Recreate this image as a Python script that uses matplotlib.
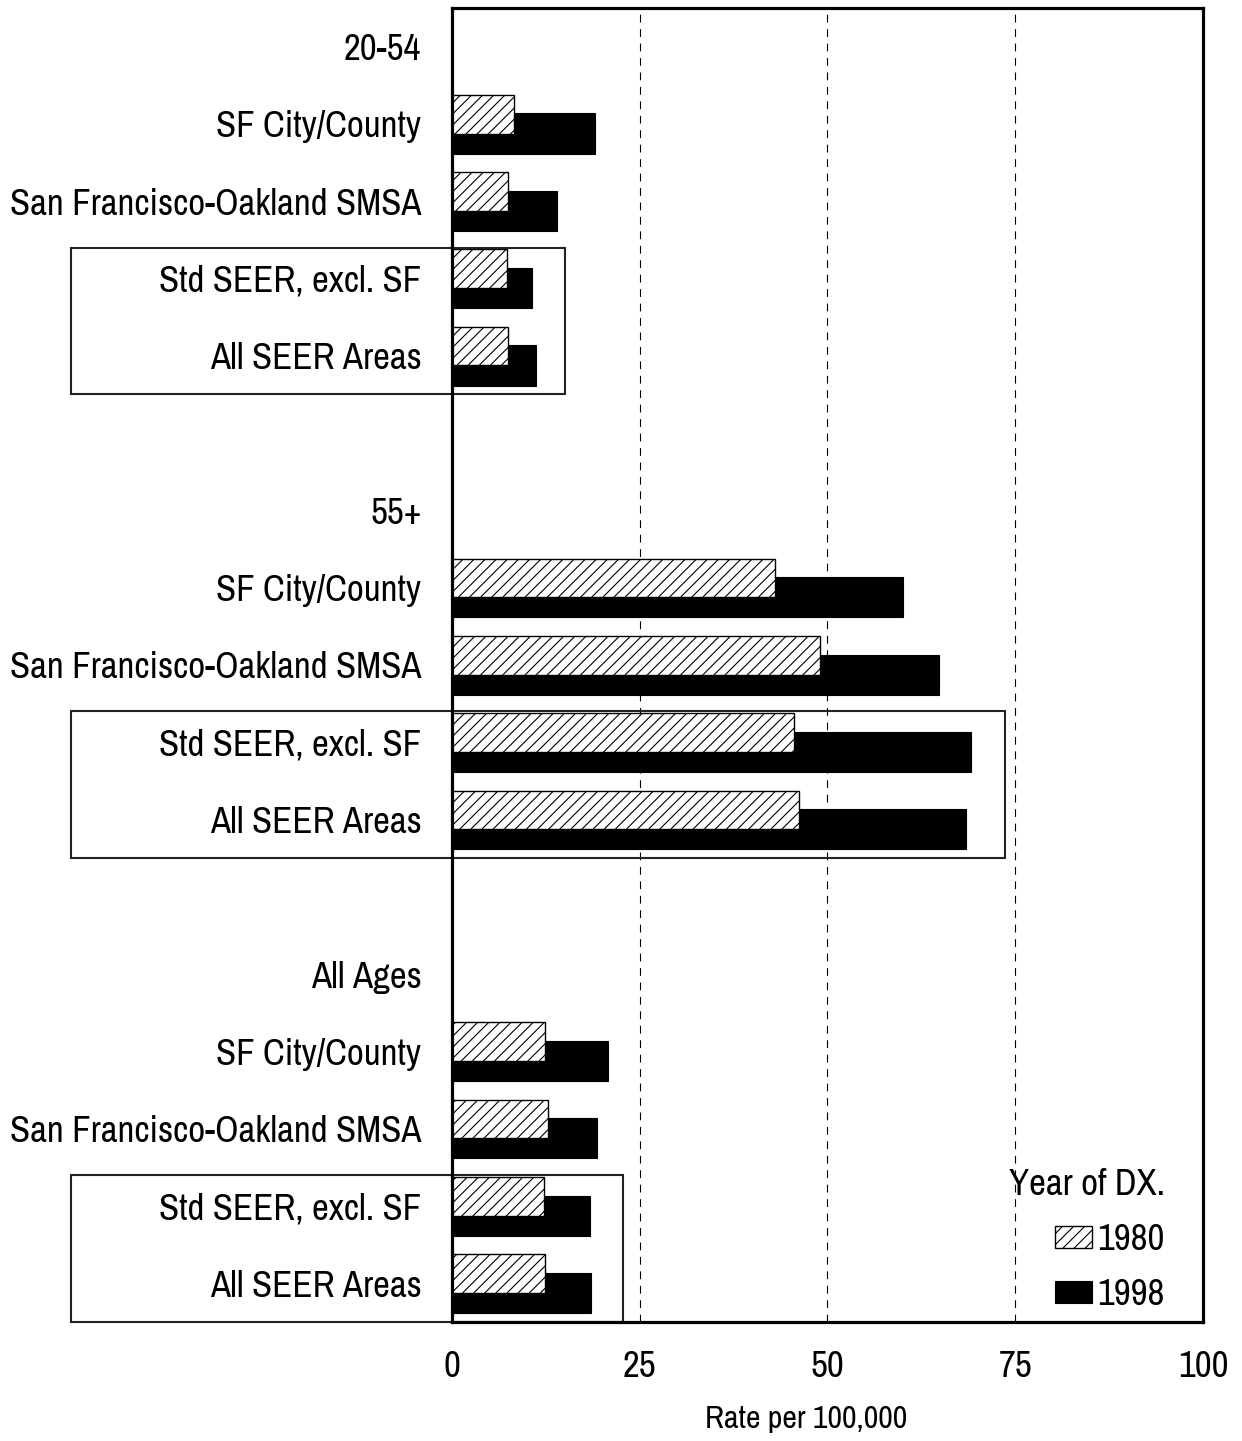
import matplotlib.pyplot as plt
from matplotlib.patches import Rectangle
import numpy as np

plt.rcParams['font.family'] = ['Archivo Narrow', 'Liberation Sans', 'DejaVu Sans']
plt.rcParams['hatch.linewidth'] = 0.8

# rows from top to bottom; header rows carry no bars
categories = ['20-54', 'SF City/County', 'San Francisco-Oakland SMSA', 'Std SEER, excl. SF', 'All SEER Areas',
              '',
              '55+', 'SF City/County', 'San Francisco-Oakland SMSA', 'Std SEER, excl. SF', 'All SEER Areas',
              '',
              'All Ages', 'SF City/County', 'San Francisco-Oakland SMSA', 'Std SEER, excl. SF', 'All SEER Areas']
rate_1980 = [0, 8.3, 7.5, 7.3, 7.5,
             0,
             0, 43.0, 49.0, 45.5, 46.2,
             0,
             0, 12.4, 12.8, 12.3, 12.4]
rate_1998 = [0, 19.1, 14.0, 10.7, 11.2,
             0,
             0, 60.0, 64.8, 69.1, 68.4,
             0,
             0, 20.8, 19.3, 18.4, 18.5]
# boxed groups: (first row, last row, right edge in rate units)
boxes = [(3, 4, 15.1), (9, 10, 73.6), (15, 16, 22.8)]

y = np.arange(len(categories))

fig = plt.figure(figsize=(12.42, 14.41), dpi=100)
ax = fig.add_axes([0.3639, 0.0826, 0.6047, 0.9119])

ax.barh(y + 0.125, rate_1998, height=0.52, color='black', edgecolor='black', linewidth=0.8,
        label='1998', zorder=3)
ax.barh(y - 0.125, rate_1980, height=0.5, color='white', edgecolor='black', linewidth=1.0,
        hatch='///', label='1980', zorder=4)

ax.set_xlim(0, 100)
ax.set_ylim(len(categories) - 0.5, -0.5)
ax.set_xticks([0, 25, 50, 75, 100])
ax.set_yticks(y)
ax.set_yticklabels(categories, fontsize=26.5)
ax.tick_params(axis='y', length=0, pad=22)
ax.tick_params(axis='x', length=0, pad=20, labelsize=26.5)
ax.set_xlabel('Rate per 100,000', fontsize=23, labelpad=16)
ax.xaxis.label.set_x(0.471)

for v in [25, 50, 75]:
    ax.axvline(v, color='black', linewidth=0.8, linestyle=(0, (7, 6)), zorder=1)

for s in ax.spines.values():
    s.set_linewidth(2.3)
    s.set_zorder(6)

# the framing boxes reach out over the row labels
left = -50.7
for first, last, right in boxes:
    top = first - 0.4
    bottom = last + 0.5
    ax.add_patch(Rectangle((left, top), right - left, bottom - top, fill=False,
                           edgecolor='#222222', linewidth=1.5, clip_on=False, zorder=5))

handles, labels = ax.get_legend_handles_labels()
leg = ax.legend(handles[::-1], labels[::-1], title='Year of DX.', loc='lower right',
                bbox_to_anchor=(0.969, -0.003), borderaxespad=0,
                frameon=False, fontsize=26.5, title_fontsize=26.5, alignment='right',
                handlelength=1.0, handleheight=0.55, handletextpad=0.15, labelspacing=0.6)

fig.savefig('out.png', dpi=100)
